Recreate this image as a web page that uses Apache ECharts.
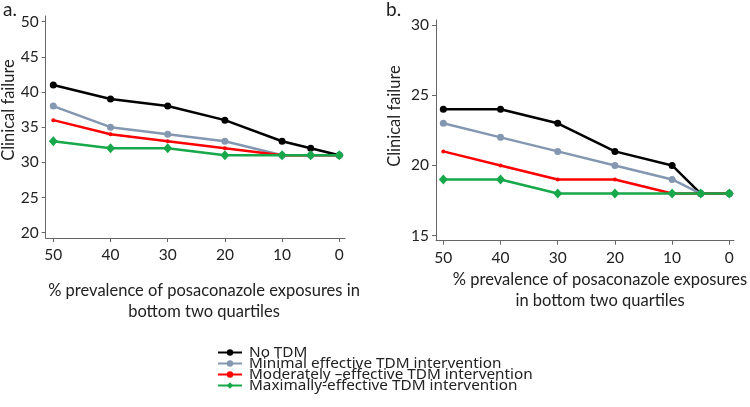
<!DOCTYPE html>
<html><head><meta charset="utf-8">
<script src="https://cdn.jsdelivr.net/npm/echarts@6/dist/echarts.min.js"></script>
<style>html,body{margin:0;padding:0;background:#fff}#c{width:750px;height:407px}</style>
</head><body><div id="c"></div>
<script>
const xValues = [50, 40, 30, 20, 10, 5, 0];
const xTicks = [50, 40, 30, 20, 10, 0];
const seriesNames = ['No TDM', 'Minimal effective TDM intervention', 'Moderately \u2013effective TDM intervention', 'Maximally-effective TDM intervention'];
const aNoTDM = [41, 39, 38, 36, 33, 32, 31];
const aMinimal = [38, 35, 34, 33, 31, 31, 31];
const aModerate = [36, 34, 33, 32, 31, 31, 31];
const aMaximal = [33, 32, 32, 31, 31, 31, 31];
const bNoTDM = [24, 24, 23, 21, 20, 18, 18];
const bMinimal = [23, 22, 21, 20, 19, 18, 18];
const bModerate = [21, 20, 19, 19, 18, 18, 18];
const bMaximal = [19, 19, 18, 18, 18, 18, 18];
const aYTicks = [20, 25, 30, 35, 40, 45, 50];
const bYTicks = [15, 20, 25, 30];
const xName = '% prevalence of posaconazole exposures';
const yName = 'Clinical failure';

const FONT = 'Lato';
const LFONT = 'Noto Sans';
const colors = ['#000000', '#8497b0', '#ff0000', '#16a84a'];
const symbols = ['circle', 'circle', 'circle', 'diamond'];
const sizes = [7, 7, 4, [9, 10]];
const legendTops = [345, 356, 367, 378];
const pair = (ys) => xValues.map((x, i) => [x, ys[i]]);

const chart = echarts.init(document.getElementById('c'));
const axisCommon = {
  axisLine: {onZero: false, lineStyle: {color: '#666', width: 1}},
  axisTick: {show: true, length: 4, lineStyle: {color: '#666'}},
  splitLine: {show: false},
  axisLabel: {color: '#222', fontSize: 15.5, fontFamily: FONT}
};
function xAx(idx, min, max) {
  return Object.assign({}, axisCommon, {
    type: 'value', gridIndex: idx, inverse: true, min: min, max: max,
    axisTick: Object.assign({}, axisCommon.axisTick, {customValues: xTicks}),
    axisLabel: Object.assign({}, axisCommon.axisLabel, {customValues: xTicks, margin: 9})
  });
}
function yAx(idx, min, max, ticks) {
  return Object.assign({}, axisCommon, {
    type: 'value', gridIndex: idx, min: min, max: max,
    axisTick: Object.assign({}, axisCommon.axisTick, {customValues: ticks}),
    axisLabel: Object.assign({}, axisCommon.axisLabel, {customValues: ticks, margin: 7})
  });
}
const aData = [aNoTDM, aMinimal, aModerate, aMaximal];
const bData = [bNoTDM, bMinimal, bModerate, bMaximal];
const series = [];
[aData, bData].forEach((set, g) => {
  set.forEach((ys, k) => {
    series.push({
      type: 'line', name: seriesNames[k], xAxisIndex: g, yAxisIndex: g,
      data: pair(ys), symbol: symbols[k], symbolSize: sizes[k], showSymbol: true,
      lineStyle: {color: colors[k], width: 2.5}, itemStyle: {color: colors[k]},
      z: 2 + k, animation: false
    });
  });
});
const legends = seriesNames.map((name, k) => ({
  orient: 'vertical', left: 217, top: legendTops[k], padding: 0,
  itemWidth: 24, itemHeight: 8, data: [name],
  textStyle: {fontSize: 15.3, fontFamily: LFONT, color: '#222', padding: [0, 0, 0, 2]}
}));
const txt = {fill: '#222', fontFamily: FONT};
chart.setOption({
  animation: false,
  grid: [
    {left: 45.7, right: 405, top: 16, bottom: 169},
    {left: 436, right: 16, top: 20, bottom: 166.3}
  ],
  xAxis: [xAx(0, -1, 51.33), xAx(1, -0.82, 51.28)],
  yAxis: [yAx(0, 19.25, 50.8, aYTicks), yAx(1, 14.64, 30.36, bYTicks)],
  legend: legends,
  graphic: [
    {type: 'text', left: 3, top: 0, style: Object.assign({text: 'a.', fontSize: 19}, txt)},
    {type: 'text', left: 386, top: 0, style: Object.assign({text: 'b.', fontSize: 19}, txt)},
    {type: 'text', x: 9, y: 110, rotation: Math.PI / 2, style: Object.assign({text: yName, fontSize: 16.5, align: 'center', verticalAlign: 'middle'}, txt)},
    {type: 'text', x: 395, y: 116, rotation: Math.PI / 2, style: Object.assign({text: yName, fontSize: 16.5, align: 'center', verticalAlign: 'middle'}, txt)},
    {type: 'text', x: 204, y: 301, style: Object.assign({text: xName + ' in\nbottom two quartiles', fontSize: 16.5, align: 'center', verticalAlign: 'middle', lineHeight: 21}, txt)},
    {type: 'text', x: 600, y: 290, style: Object.assign({text: xName + '\nin bottom two quartiles', fontSize: 16.5, align: 'center', verticalAlign: 'middle', lineHeight: 21}, txt)}
  ],
  series: series
});
</script></body></html>
